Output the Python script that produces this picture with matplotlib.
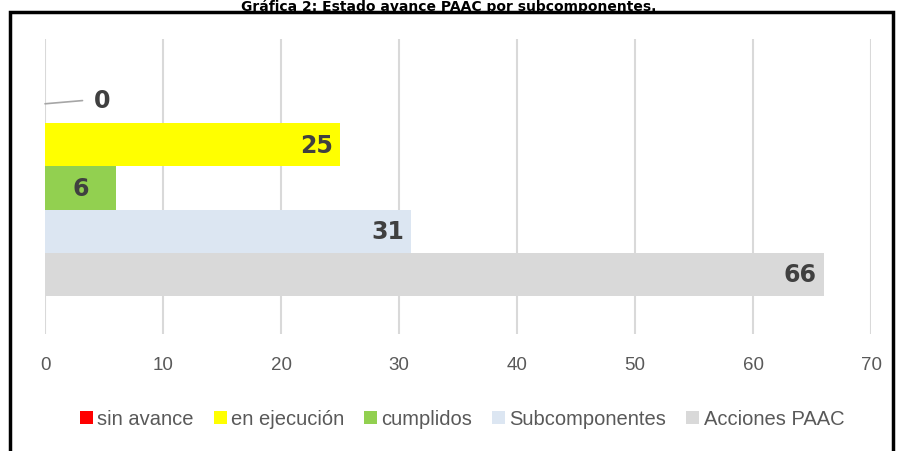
import matplotlib.pyplot as plt
from matplotlib.patches import Rectangle

series = ["sin avance", "en ejecución", "cumplidos", "Subcomponentes", "Acciones PAAC"]
values = [0, 25, 6, 31, 66]
colors = ["#FF0000", "#FFFF00", "#92D050", "#DCE6F2", "#D9D9D9"]
xticks = [0, 10, 20, 30, 40, 50, 60, 70]

tick_font = "Liberation Sans"

fig = plt.figure(figsize=(8.97, 4.52), dpi=100)
ax = fig.add_axes([45 / 897, 1 - 335 / 452, 826 / 897, 295 / 452])

# bars drawn top to bottom, first series at top
n = len(series)
for i, (name, v, c) in enumerate(zip(series, values, colors)):
    y = n - 1 - i
    ax.barh(y, v, height=1.0, color=c, label=name)
    if v == 0:
        ax.annotate(str(v), xy=(v, y - 0.05), xytext=(35, 3), textcoords="offset points",
                    fontsize=17, fontweight="bold", color="#404040", va="center", ha="left",
                    arrowprops=dict(arrowstyle="-", color="#A6A6A6", lw=1.2, shrinkA=6, shrinkB=0,
                                    relpos=(0, 0.5)))
    elif v < 10:
        ax.text(v / 2, y, str(v), fontsize=17, fontweight="bold", color="#404040",
                va="center", ha="center")
    else:
        ax.annotate(str(v), xy=(v, y), xytext=(-5, 0), textcoords="offset points",
                    fontsize=17, fontweight="bold", color="#404040", va="center", ha="right")

ax.set_xlim(0, 70)
ax.set_ylim(-1.38, 5.45)
ax.set_xticks(xticks)
ax.set_yticks([])
ax.grid(axis="x", color="#D9D9D9", lw=1.5)
ax.set_axisbelow(True)
for s in ax.spines.values():
    s.set_visible(False)
ax.tick_params(axis="x", length=0, pad=16, labelsize=13.5, labelcolor="#595959")
for lab in ax.get_xticklabels():
    lab.set_fontfamily(tick_font)

leg = fig.legend(loc="center", bbox_to_anchor=(462 / 897, 1 - 420 / 452), ncol=5, frameon=False,
                 handlelength=0.65, handleheight=0.65, handletextpad=0.2, columnspacing=1.0,
                 prop={"family": tick_font, "size": 14.5})
for t in leg.get_texts():
    t.set_color("#595959")

# chart border
fig.patches.append(Rectangle((9.5 / 897, -0.05), 883 / 897, 1.05 - 13 / 452, transform=fig.transFigure,
                             fill=False, edgecolor="black", lw=2.5))

fig.text(0.5, 1.0, "Gráfica 2: Estado avance PAAC por subcomponentes.", ha="center", va="top",
         fontsize=10, fontweight="bold", color="black")

fig.savefig("out.png", dpi=100)
